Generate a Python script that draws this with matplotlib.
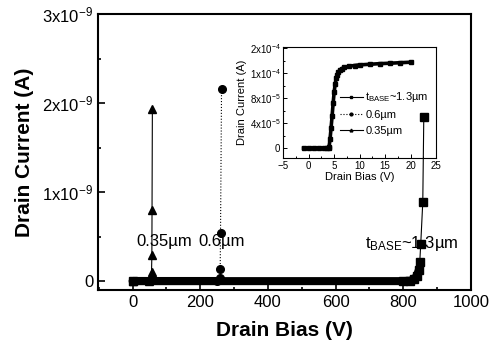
import matplotlib
matplotlib.use("Agg")
import matplotlib.pyplot as plt
from matplotlib.lines import Line2D
from matplotlib.ticker import FixedLocator, MultipleLocator

plt.rcParams['font.family'] = ['Liberation Sans', 'DejaVu Sans']
plt.rcParams['mathtext.fontset'] = 'custom'
plt.rcParams['mathtext.rm'] = 'Liberation Sans'
plt.rcParams['mathtext.default'] = 'regular'

# ---- main panel data (current in units of 1e-9 A) ----
bias_035 = [0, 50, 55, 56, 57, 57.5, 58.5]
curr_035 = [0, 0, 0.02, 0.10, 0.29, 0.80, 1.93]
bias_06 = [0, 250, 256, 258, 259, 260, 263]
curr_06 = [0, 0, 0.01, 0.03, 0.135, 0.54, 2.16]
bias_13 = [0, 800, 820, 832, 840, 846, 849, 852, 858, 861]
curr_13 = [0, 0, 0.005, 0.02, 0.06, 0.12, 0.21, 0.42, 0.89, 1.85]
flat_n = [2, 2, 6]  # number of leading points forming the thick base band

main_yticks = [0, 1, 2, 3]
main_ylabels = ['0', '1x10$^{-9}$', '2x10$^{-9}$', '3x10$^{-9}$']
main_xticks = [0, 200, 400, 600, 800, 1000]

# ---- inset data (current in units of 1e-4 A) ----
inset_v = [-1, 0, 1, 2, 3, 3.6, 3.9, 4.0, 4.2, 4.4, 4.6, 4.8, 5.0, 5.2, 5.4, 5.6,
           5.8, 6.1, 6.5, 7, 8, 9, 10, 12, 14, 16, 18, 20]
inset_i = [0, 0, 0, 0, 0, 0, 0, 0.02, 0.15, 0.33, 0.52, 0.72, 0.90, 1.03, 1.12, 1.18,
           1.22, 1.25, 1.275, 1.295, 1.315, 1.325, 1.335, 1.345, 1.355, 1.362, 1.37, 1.378]
inset_yticks = [0, 0.4, 0.8, 1.2, 1.6]
inset_ylabels = ['0', '4x10$^{-5}$', '8x10$^{-5}$', '1x10$^{-4}$', '2x10$^{-4}$']
inset_xticks = [-5, 0, 5, 10, 15, 20, 25]
legend_labels = ['t$_{BASE}$~1.3\u00b5m', '0.6\u00b5m', '0.35\u00b5m']

fig = plt.figure(figsize=(5.03, 3.49), dpi=100)
ax = fig.add_axes([0.195, 0.169, 0.741, 0.790])
ax.set_zorder(2)
ax.patch.set_alpha(0)

series = [(bias_035, curr_035, '^', '-'), (bias_06, curr_06, 'o', ':'), (bias_13, curr_13, 's', '-')]
for (bx, cy, mk, ls), n in zip(series, flat_n):
    ax.plot(bx[:n], cy[:n], color='black', lw=5.8, solid_capstyle='round',
            solid_joinstyle='round')
    ax.plot(bx, cy, color='black', lw=0.8, ls=ls, marker=mk, ms=5.5)

ax.set_xlim(-102, 1000)
ax.set_ylim(-0.1, 3.0)
ax.yaxis.set_major_locator(FixedLocator(main_yticks))
ax.set_yticklabels(main_ylabels)
ax.yaxis.set_minor_locator(MultipleLocator(0.5))
ax.xaxis.set_major_locator(FixedLocator(main_xticks))
ax.xaxis.set_minor_locator(MultipleLocator(100))
ax.tick_params(which='both', direction='in', labelsize=12, width=1.2)
ax.tick_params(which='major', length=5)
ax.tick_params(which='minor', length=2.5)
for s in ax.spines.values():
    s.set_linewidth(1.5)
ax.set_xlabel('Drain Bias (V)', fontsize=15, fontweight='bold', labelpad=8)
ax.set_ylabel('Drain Current (A)', fontsize=15, fontweight='bold', labelpad=6)

ax.text(10, 0.45, '0.35\u00b5m', fontsize=12, ha='left', va='center')
ax.text(195, 0.45, '0.6\u00b5m', fontsize=12, ha='left', va='center')
ax.text(688, 0.42, 't$_{BASE}$~1.3\u00b5m', fontsize=12, ha='left', va='center')

# ---- inset ----
ins = fig.add_axes([0.563, 0.547, 0.304, 0.318])
ins.set_zorder(1)
ins.patch.set_alpha(0)
ins.plot(inset_v, inset_i, color='black', lw=2.6, marker='s', ms=2.2,
         solid_joinstyle='round')
ins.set_xlim(-5, 25)
ins.set_ylim(-0.16, 1.62)
ins.yaxis.set_major_locator(FixedLocator(inset_yticks))
ins.set_yticklabels(inset_ylabels)
ins.yaxis.set_minor_locator(MultipleLocator(0.2))
ins.xaxis.set_major_locator(FixedLocator(inset_xticks))
ins.xaxis.set_minor_locator(MultipleLocator(2.5))
ins.tick_params(which='both', direction='in', labelsize=7, width=0.7, pad=2)
ins.tick_params(which='major', length=3)
ins.tick_params(which='minor', length=1.5)
for s in ins.spines.values():
    s.set_linewidth(0.8)
ins.set_xlabel('Drain Bias (V)', fontsize=8, labelpad=1)
ins.set_ylabel('Drain Current (A)', fontsize=8, labelpad=2)

handles = [Line2D([], [], color='black', lw=0.8, ls='-', marker='s', ms=2),
           Line2D([], [], color='black', lw=0.8, ls=':', marker='o', ms=2),
           Line2D([], [], color='black', lw=0.8, ls='-', marker='^', ms=2)]
ins.legend(handles, legend_labels, loc='upper left', bbox_to_anchor=(0.33, 0.67),
           frameon=False, fontsize=8, handlelength=2.0, handletextpad=0.25,
           labelspacing=0.5, borderpad=0.1)

fig.savefig('out.png', dpi=100)
